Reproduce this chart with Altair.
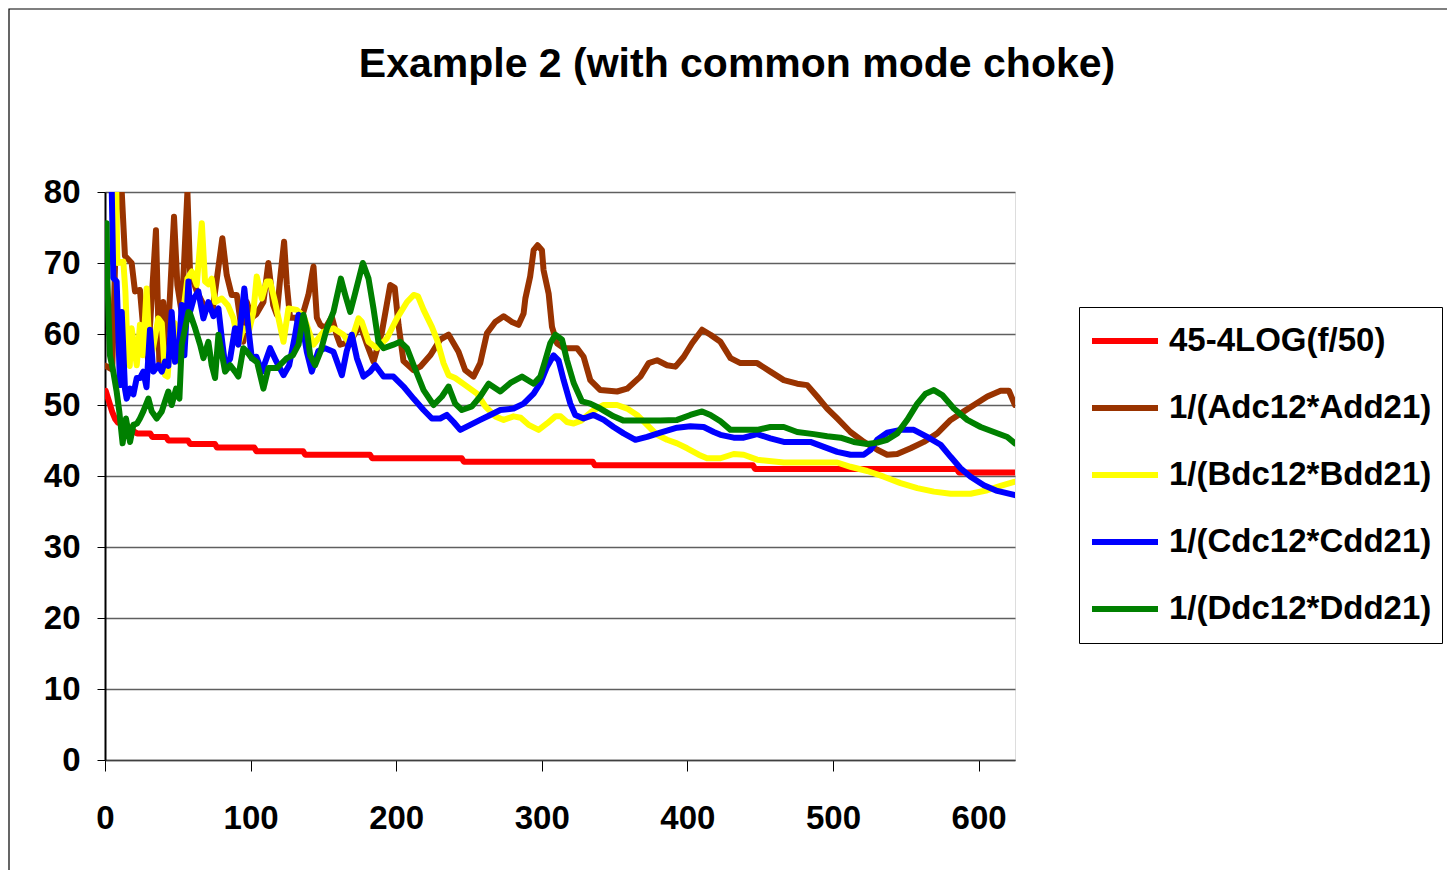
import altair as alt
import pandas as pd

FONT = "Liberation Sans, Arial, sans-serif"

series_names = ["45-4LOG(f/50)", "1/(Adc12*Add21)", "1/(Bdc12*Bdd21)",
                "1/(Cdc12*Cdd21)", "1/(Ddc12*Ddd21)"]
series_colors = ["#FF0000", "#993300", "#FFFF00", "#0000FF", "#008000"]

red_x = [0.5, 2, 3.5, 5, 7, 9, 16, 18, 22, 31, 32.5, 42, 43.5, 57, 58.5, 75.5, 77,
         102.5, 104, 136, 137.5, 182, 183.5, 245, 246.5, 335, 336.5, 445, 446.5,
         585, 586.5, 625]
red_y = [52, 51, 50, 49, 48, 47.5, 47, 46.5, 46, 46, 45.5, 45.5, 45, 45, 44.5, 44.5, 44,
         44, 43.5, 43.5, 43, 43, 42.5, 42.5, 42, 42, 41.5, 41.5, 41,
         41, 40.5, 40.5]

brown_x = [0.5, 5, 8.5, 11, 13.7, 18.3, 20.6, 24, 25.9, 27.5, 29.5, 35, 37.3, 40, 42.4,
           47.4, 49.7, 52.7, 56.6, 58.4, 63, 68, 74, 80.6, 83.6, 87, 90.5, 95, 97.4,
           100.8, 104, 108.8, 112.2, 115.5, 118, 120.3, 123, 124.9, 127.1, 130.6, 134,
           139.7, 143.2, 145.5, 147.8, 151.2, 155.8, 159.2, 161.5, 168.4, 175.3, 180,
           184.4, 190.2, 195.9, 199, 201.6, 205, 212, 216.5, 223.4, 230.2, 236, 242.8,
           247.4, 253.1, 257.7, 262.3, 268, 273.8, 279.5, 284, 287.5, 288.7, 292,
           294.4, 297.1, 300.1, 301.2, 304.7, 307, 310.4, 315, 324.2, 328.7, 333.3,
           340.2, 351.7, 358.6, 367.7, 373.4, 379.2, 386, 391.8, 397.5, 403.2, 410.1,
           415.8, 422.7, 429.6, 436.4, 447.9, 457, 466.2, 475.4, 482.3, 489.1, 496,
           502.9, 512, 521.2, 530.4, 537.2, 544.1, 553.3, 562.4, 571.6, 580.8, 589.9,
           596.8, 606, 615.1, 620.8, 625]
brown_y = [55.5, 55, 82, 82, 71, 70, 66, 66.2, 61.7, 64, 56.5, 74.6, 56.1, 64.5, 56.6,
           76.5, 66.9, 63, 80, 68.8, 66, 64, 63.5, 73.5, 68.3, 65.5, 65.5, 58.9, 64.5,
           62.3, 62.8, 64.5, 70, 64.1, 62.7, 67.8, 73, 66.9, 62.3, 62.3, 61.5,
           65.5, 69.5, 62.3, 61.3, 60.8, 62.4, 59.8, 58.5, 58.9, 61.3, 58.5,
           56.1, 60.3, 66.9, 66.5, 61.3, 56.2, 54.9, 55.4, 57, 59.2, 59.9, 57.5,
           54.9, 54, 55.9, 60.1, 61.7, 62.5, 61.7, 61.3, 62.9, 65, 68.1,
           71.8, 72.5, 71.8, 69, 65.7, 61, 58.7, 58, 58, 56.8, 53.5,
           52.1, 51.9, 52.3, 54, 55.9, 56.3, 55.6, 55.4, 56.8, 58.7, 60.6,
           59.9, 58.9, 56.6, 55.9, 55.9, 54.7, 53.5, 53, 52.8, 51.2, 49.5,
           48.1, 46.2, 44.8, 43.7, 43, 43.1, 43.9, 44.8, 46, 47.9, 49.1,
           50, 51.2, 52, 52, 50]

yellow_x = [7.6, 8.5, 12.6, 14, 15.8, 17, 18.3, 21.8, 24, 26, 28.6, 30.9, 33, 36.6, 39,
            41.2, 43, 45.8, 48, 50.4, 53, 56.6, 59.6, 63, 66.5, 68.7, 71, 73.3, 75.6,
            80.2, 84.5, 88.2, 91.6, 95, 99, 101.9, 104.2, 107.7, 111.1, 113.4, 116.8,
            122.6, 126, 131.7, 136.5, 143.2, 150, 156.9, 163.8, 168.4, 174.1, 176.4,
            181, 186.7, 193.6, 200.5, 207.4, 212, 215, 218.8, 224.5, 228, 232.5, 236,
            240.5, 247.4, 255.5, 261.2, 268, 273.8, 280.6, 285.5, 291, 297.8, 303.6,
            309.3, 313, 317.3, 321.9, 327, 334.5, 342.5, 351.7, 358.6, 365.4, 372.3,
            379.2, 386, 392.9, 399.8, 407.8, 413.5, 422.7, 431.8, 438.7, 447.9, 466.2,
            484.5, 502.9, 512, 523.5, 534.9, 546.4, 557.9, 569.3, 580.8, 594.5, 606,
            615.1, 625]
yellow_y = [82, 70, 70.2, 66, 56, 55.5, 60.8, 55.6, 61.3, 57, 66.4, 56.1, 58, 62.2, 61.5,
            54.2, 54, 61.7, 61.5, 56.1, 62, 67.8, 68.8, 66.9, 75.6, 67.4, 67, 67.8, 64.5,
            65, 64, 62.2, 58.5, 60.8, 60.5, 63.1, 68.1, 65, 67.4, 67.4, 64.5,
            58.9, 63.6, 63.4, 62.5, 58.5, 60.3, 60.8, 59.9, 58.5, 62.2, 61.7,
            58.9, 58, 59.4, 62.2, 64.5, 65.5, 65.3, 63.4, 61, 59.2, 55.9, 54.2,
            53.8, 52.8, 51.6, 49.8, 48.4, 47.9, 48.4, 48.2, 47.2, 46.5, 47.4,
            48.4, 48.4, 47.6, 47.4, 47.8, 49.1, 50, 50, 49.5, 48.6, 47.2,
            45.8, 45.1, 44.6, 43.9, 43, 42.5, 42.5, 43.1, 43, 42.3, 41.9,
            41.9, 41.9, 41.3, 40.7, 39.9, 39, 38.3, 37.8, 37.5, 37.5, 38,
            38.6, 39.2]

blue_x = [0, 4.5, 5.7, 8, 10.3, 11.5, 13.7, 14.9, 17.2, 19.5, 21.8, 24, 26.3, 28.5,
          30.9, 33.2, 36.6, 39, 41.2, 43.5, 45.8, 48.1, 50.4, 52.7, 54.5, 57.3, 58.4,
          61, 64.1, 67.6, 71, 74.5, 77.9, 80.2, 82.5, 85.9, 89.3, 91.6, 95.7, 98.5,
          100.8, 104, 107.7, 113.4, 117.5, 122.6, 126.5, 130.6, 132.9, 135, 138.6,
          142, 146.5, 151.2, 156.9, 162.7, 166, 169.5, 173, 177.5, 182.1, 185.6,
          191.3, 198.1, 205, 211.9, 218.8, 224.5, 230.2, 234.8, 239.4, 244, 250.9,
          257.7, 264.6, 271.5, 280.6, 287.5, 294.4, 299, 303.6, 308.1, 311.5, 315,
          319.6, 323, 328.7, 335.6, 342.5, 349.3, 356.2, 364.3, 372.3, 381.4, 392.9,
          402, 411.2, 418.1, 422.7, 431.8, 438.7, 447.9, 457, 466.2, 484.5, 493.7,
          502.9, 512, 521.2, 525.8, 530.4, 537.2, 546.4, 555.5, 564.7, 573.9, 580.8,
          587.6, 594.5, 603.6, 612.8, 625]
blue_y = [82, 82, 67.9, 67.4, 52.8, 63.1, 52.3, 50.9, 52.3, 51.5, 53.8, 53.8, 54.7, 52.5,
          60.6, 54.7, 55.6, 54.7, 56.1, 55.5, 63.1, 56.1, 56.5, 64.1, 57, 67.4, 63.1,
          65, 66, 62.2, 64.5, 62.5, 63.6, 59.4, 55.6, 56.5, 60.8, 58.5, 66.4, 60.8,
          56.6, 56.8, 54.7, 58, 56.2, 54.2, 55.6, 59.9, 62.7, 62, 57.5,
          54.7, 57.6, 58, 57.5, 54.2, 57.6, 59.9, 56.6, 54, 54.7, 55.6,
          54, 54, 52.6, 50.9, 49.3, 48.1, 48.1, 48.6, 47.6, 46.5, 47.2,
          47.9, 48.6, 49.3, 49.5, 50.2, 51.6, 53.1, 55.4, 57, 56.3, 53.5,
          50.2, 48.6, 48.1, 48.6, 47.9, 46.9, 46, 45.1, 45.5, 46.1, 46.8,
          47, 46.9, 46.2, 45.8, 45.4, 45.4, 45.9, 45.3, 44.8, 44.8, 44.1,
          43.4, 43, 43, 43.7, 45.1, 46.1, 46.5, 46.5, 45.5, 44.4, 42.7,
          41.1, 39.9, 38.7, 37.9, 37.3]

green_x = [1.1, 1.6, 3.4, 5.7, 8, 9.8, 12.1, 14.4, 17.2, 19.5, 22, 24, 26.3, 29.8, 32.1,
           35.5, 39, 41.2, 43.5, 45.8, 48.8, 51.1, 52.7, 55, 57.3, 58.4, 61.9, 65.3,
           67.6, 71, 73.3, 75.6, 77.9, 80, 82.5, 86, 89.3, 91.6, 95, 97.5, 100.8,
           104.5, 108.8, 112.2, 118, 124.9, 129, 132.9, 136.3, 138.5, 140.9, 144.3,
           148, 152.4, 156.9, 162, 165, 168.4, 171.5, 177.1, 181, 184.4, 187.8, 191.3,
           198.1, 202.7, 207.4, 212, 218.8, 225.7, 231.4, 236, 240.5, 245.1, 252,
           257.7, 263.5, 271.5, 278.4, 286.4, 294.4, 299, 302.4, 305.8, 309.3, 313.9,
           317.3, 321.9, 327.6, 333.3, 340.2, 349.3, 356.2, 381.4, 392.9, 402, 410.1,
           415.8, 422.7, 429.6, 447.9, 457, 466.2, 475.4, 486.8, 496, 505.2, 514.3,
           523.5, 530.4, 537.2, 544.1, 551, 557.9, 563.6, 569.3, 575, 583, 592.2,
           601.4, 610.5, 619.7, 625]
green_y = [75.6, 67.8, 57, 54.7, 51.9, 49.1, 44.6, 48.1, 44.8, 47.2, 47.4, 48.1, 49.1, 50.9,
           49.1, 48.1, 49.1, 50.5, 51.9, 50, 52.3, 50.9, 58.5, 60.8, 63.1, 62.9, 60.8,
           58.5, 56.6, 58.9, 55.6, 53.8, 59.9, 57.5, 54.7, 55.6, 54.7, 54, 58, 57.5,
           56.6, 56, 52.3, 55.2, 55.2, 56.6, 57, 58.5, 62.7, 60.8, 57, 55.6,
           57.5, 60.8, 63.1, 67.8, 65.5, 63.1, 65.5, 70, 67.8, 63.6, 58.9, 58,
           58.5, 58.9, 58, 55.6, 52.1, 50, 51.2, 52.6, 50.2, 49.3, 49.8,
           51.2, 53, 51.9, 53.1, 54, 53, 54, 56.3, 58.7, 59.9, 59.2,
           56.3, 53.1, 50.5, 50.2, 49.5, 48.4, 47.8, 47.8, 47.9, 48.6, 49.1,
           48.6, 47.7, 46.5, 46.5, 46.9, 46.9, 46.2, 45.9, 45.6, 45.4, 44.8,
           44.5, 44.7, 45.1, 46, 47.9, 50.2, 51.6, 52.1, 51.4, 49.5, 47.9,
           46.9, 46.2, 45.5, 44.6]

x_ticks = [0, 100, 200, 300, 400, 500, 600]
y_ticks = [0, 10, 20, 30, 40, 50, 60, 70, 80]
title_text = "Example 2 (with common mode choke)"

frames = []
for name, xs, ys in zip(series_names,
                        [red_x, brown_x, yellow_x, blue_x, green_x],
                        [red_y, brown_y, yellow_y, blue_y, green_y]):
    frames.append(pd.DataFrame({"f": xs, "v": ys, "series": name}))
df = pd.concat(frames, ignore_index=True)
df["idx"] = range(len(df))

lines = alt.Chart(df).mark_line(
    strokeWidth=6, strokeCap="round", strokeJoin="round", clip=True
).encode(
    x=alt.X("f:Q", scale=alt.Scale(domain=[0, 625], nice=False, zero=False),
            axis=alt.Axis(values=x_ticks, title=None, grid=False, labelFlush=False,
                          labelOverlap=False, labelFont=FONT, labelFontSize=33,
                          labelFontWeight="bold", labelColor="black", labelPadding=31,
                          tickSize=11, tickColor="black", tickWidth=1,
                          domainColor="#404040", domainWidth=1.5)),
    y=alt.Y("v:Q", scale=alt.Scale(domain=[0, 80], nice=False, zero=True),
            axis=alt.Axis(values=y_ticks, title=None, grid=True, gridColor="#5f5f5f",
                          gridWidth=1.5, labelFont=FONT, labelFontSize=33,
                          labelFontWeight="bold", labelColor="black", labelPadding=17,
                          tickSize=8, tickColor="black", tickWidth=1,
                          domainColor="black", domainWidth=2)),
    color=alt.Color("series:N",
                    scale=alt.Scale(domain=series_names, range=series_colors),
                    legend=alt.Legend(title=None, orient="none", legendX=974, legendY=115,
                                      direction="vertical", symbolType="stroke",
                                      symbolSize=4356, symbolStrokeWidth=6,
                                      labelFont=FONT, labelFontSize=33,
                                      labelFontWeight="bold", labelColor="black",
                                      labelOffset=8, labelLimit=600, padding=10,
                                      rowPadding=19, clipHeight=48,
                                      strokeColor="black", fillColor="white")),
    order=alt.Order("idx:Q"),
    detail="series:N",
)

frame = alt.Chart(pd.DataFrame({"a": [0]})).mark_rect(
    fill=None, stroke="black", strokeWidth=1.2
).encode(
    x=alt.value(-96), x2=alt.value(2000), y=alt.value(-183), y2=alt.value(2000)
)

chart = alt.layer(frame, lines).properties(
    width=910, height=568,
    title=alt.TitleParams(text=title_text, font=FONT, fontSize=41, fontWeight="bold",
                          color="black", anchor="middle", frame="group", dx=177,
                          offset=0, dy=110, baseline="alphabetic"),
    autosize=alt.AutoSizeParams(type="none"),
    padding={"left": 97, "top": 184, "right": 432, "bottom": 110},
).configure_view(
    fill="#C0C0C0", stroke="#808080", strokeWidth=2.5
).configure(background="white")

chart.save("out.html", embed_options={"renderer": "svg", "actions": False})
